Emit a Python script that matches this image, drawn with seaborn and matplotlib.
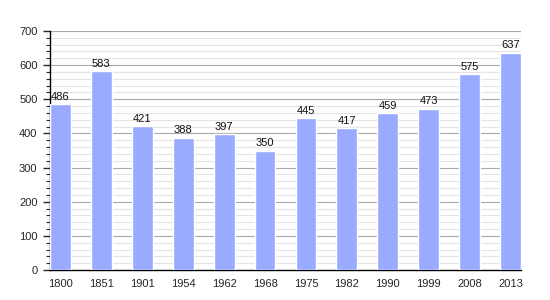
import matplotlib
matplotlib.use("Agg")
import matplotlib.pyplot as plt
import seaborn as sns
import pandas as pd
from matplotlib.ticker import MultipleLocator

years = ["1800", "1851", "1901", "1954", "1962", "1968", "1975", "1982", "1990", "1999", "2008", "2013"]
population = [486, 583, 421, 388, 397, 350, 445, 417, 459, 473, 575, 637]

sns.set_style("white")
plt.rcParams['font.family'] = ['Liberation Sans', 'DejaVu Sans']

df = pd.DataFrame({"year": years, "pop": population})
fig = plt.figure(figsize=(5.5, 3.0), dpi=100)
ax = fig.add_axes([50/550, 30/300, 471/550, 239/300])

w = 0.51
sns.barplot(data=df, x="year", y="pop", color="#99aaff", saturation=1, width=w, ax=ax, zorder=3)
ax.set_xlim(-w/2, len(years) - 1 + w/2)
ax.set_ylim(0, 700)
ax.yaxis.set_major_locator(MultipleLocator(100))
ax.yaxis.set_minor_locator(MultipleLocator(20))
ax.grid(False)
ax.grid(axis="y", which="minor", color="#e4e4e4", linewidth=0.8, zorder=0)
ax.grid(axis="y", which="major", color="#a8a8a8", linewidth=0.8, zorder=1)
ax.set_axisbelow(True)

for i, v in enumerate(population):
    ax.text(i, v + 6, str(v), ha="center", va="bottom", fontsize=8, color="#111111", zorder=5)

for s in ["top", "right"]:
    ax.spines[s].set_visible(False)
for s in ["left", "bottom"]:
    ax.spines[s].set_color("black")
    ax.spines[s].set_linewidth(1.0)

ax.tick_params(axis="y", which="major", left=True, length=5, width=1, labelsize=8, pad=4)
ax.tick_params(axis="y", which="minor", left=True, length=3, width=0.8)
ax.tick_params(axis="x", bottom=False, labelsize=8, pad=3)
ax.set_xlabel("")
ax.set_ylabel("")

fig.savefig("out.png", dpi=100)
